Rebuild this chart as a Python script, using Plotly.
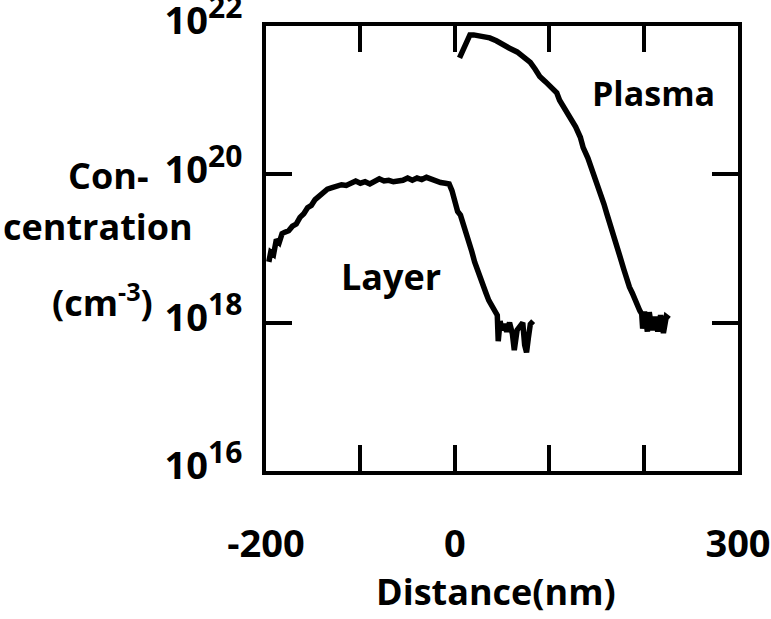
import plotly.graph_objects as go

# Depth profiles: distance (nm) and log10 of concentration (cm^-3)
layer_x = [-197, -195, -192, -189, -186, -183, -180, -176, -172, -168, -164, -160,
           -156, -152, -148, -144, -140, -135, -130, -125, -120, -115, -110, -105,
           -100, -95, -90, -85, -80, -75, -70, -65, -60, -55, -50, -45, -40, -35,
           -30, -25, -20, -15, -10, -6, -3, 0, 3, 6, 9, 12, 15, 18, 21, 24, 27, 30,
           33, 36, 39, 42, 45, 46, 48, 50, 52, 55, 58, 61, 63, 66, 69, 72, 74, 76,
           78, 80, 83]
layer_log10 = [18.82, 18.95, 18.92, 19.12, 19.08, 19.20, 19.22, 19.24, 19.30, 19.33,
               19.42, 19.47, 19.55, 19.58, 19.66, 19.70, 19.76, 19.80, 19.82, 19.84,
               19.86, 19.85, 19.88, 19.91, 19.88, 19.90, 19.87, 19.90, 19.94, 19.91,
               19.92, 19.90, 19.91, 19.92, 19.95, 19.92, 19.95, 19.93, 19.96, 19.93,
               19.91, 19.89, 19.88, 19.87, 19.78, 19.62, 19.50, 19.45, 19.34, 19.22,
               19.08, 18.96, 18.82, 18.70, 18.60, 18.50, 18.40, 18.30, 18.22, 18.15,
               18.10, 17.75, 18.02, 17.90, 17.98, 17.88, 18.00, 17.85, 17.63, 17.90,
               17.95, 18.00, 17.70, 17.60, 17.80, 17.98, 18.02]

plasma_x = [5, 9, 13, 16, 20, 25, 30, 37, 44, 51, 58, 66, 73, 80, 85, 90, 96, 104,
            108, 111, 116, 122, 128, 133, 136, 141, 146, 150, 154, 158, 161, 165,
            168, 172, 175, 179, 182, 185, 188, 191, 193, 196, 198, 199, 201, 204,
            206, 209, 212, 215, 218, 221, 224, 227]
plasma_log10 = [21.57, 21.70, 21.82, 21.88, 21.88, 21.87, 21.87, 21.84, 21.80, 21.74,
                21.70, 21.65, 21.58, 21.51, 21.42, 21.32, 21.25, 21.14, 21.10, 21.00,
                20.90, 20.77, 20.64, 20.50, 20.36, 20.22, 20.05, 19.90, 19.74, 19.60,
                19.47, 19.32, 19.16, 19.02, 18.89, 18.72, 18.58, 18.48, 18.40, 18.30,
                18.22, 18.16, 18.12, 17.92, 18.15, 17.88, 18.14, 17.90, 18.08, 17.88,
                18.10, 17.86, 18.08, 18.05]

x_tickvals = [-200, -100, 0, 100, 200, 300]
x_ticktext = ["-200", "", "0", "", "", "300"]
y_tickvals = [1e16, 1e18, 1e20, 1e22]
y_exponents = ["16", "18", "20", "22"]

FONT = "Open Sans"
INK = "black"
SUP = "<sup><span style='font-size:30px'>{}</span></sup>"
y_ticktext = ["10" + SUP.format(e) for e in y_exponents]

fig = go.Figure()
for xs, logs in [(layer_x, layer_log10), (plasma_x, plasma_log10)]:
    fig.add_trace(go.Scatter(
        x=xs, y=[10 ** v for v in logs], mode="lines",
        line=dict(color=INK, width=5.5), showlegend=False, hoverinfo="skip"))

axis_common = dict(
    showline=True, linecolor=INK, linewidth=4, mirror="ticks",
    ticks="inside", ticklen=26, tickwidth=4, tickcolor=INK,
    showgrid=False, zeroline=False, ticklabeloverflow="allow", automargin=False,
    tickfont=dict(family=FONT, size=38, color=INK, weight="bold"),
)

fig.update_xaxes(range=[-200, 300], tickmode="array", tickvals=x_tickvals,
                 ticktext=x_ticktext, ticklabelstandoff=36, **axis_common)
fig.update_yaxes(type="log", range=[16, 22], tickmode="array", tickvals=y_tickvals,
                 ticktext=y_ticktext, ticklabelstandoff=12, ticklabelshift=-5,
                 **axis_common)

label_font = dict(family=FONT, size=36, color=INK, weight="bold")
annotations = [
    dict(x=210, y=21.1, xref="x", yref="y", text="Plasma", showarrow=False,
         font=dict(family=FONT, size=34, color=INK, weight="bold")),
    dict(x=-68, y=18.62, xref="x", yref="y", text="Layer", showarrow=False,
         font=label_font),
    dict(x=-0.246, y=0.665, xref="paper", yref="paper", text="Con-", showarrow=False,
         xanchor="right", yanchor="middle", font=label_font),
    dict(x=-0.15, y=0.55, xref="paper", yref="paper", text="centration",
         showarrow=False, xanchor="right", yanchor="middle", font=label_font),
    dict(x=-0.235, y=0.384, xref="paper", yref="paper", text="(cm<sup>-3</sup>)",
         showarrow=False, xanchor="right", yanchor="middle", font=label_font),
    dict(x=0.487, y=-0.27, xref="paper", yref="paper", text="Distance(nm)",
         showarrow=False, xanchor="center", yanchor="middle", font=label_font),
]

fig.update_layout(
    width=771, height=619,
    margin=dict(l=266, r=33, t=26, b=148, autoexpand=False),
    paper_bgcolor="white", plot_bgcolor="white",
    annotations=annotations,
)

fig.write_html("out.html")
